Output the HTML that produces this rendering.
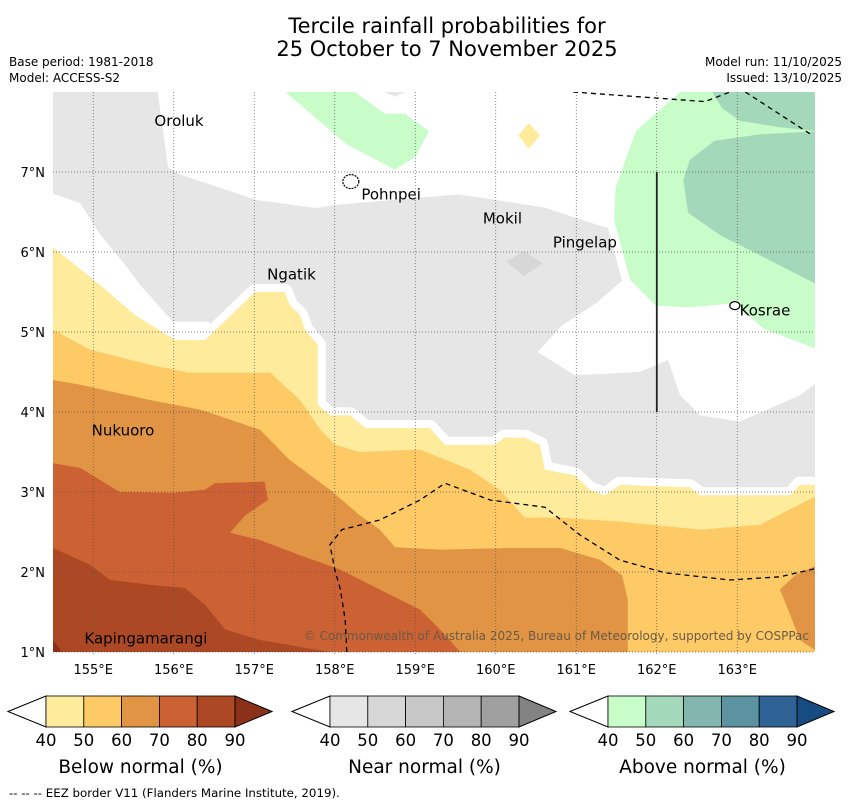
<!DOCTYPE html>
<html><head><meta charset="utf-8"><style>
body{margin:0;background:#fff;width:850px;height:804px;overflow:hidden;font-family:"Liberation Sans","DejaVu Sans",sans-serif}
svg text{font-family:"DejaVu Sans","Liberation Sans",sans-serif}
</style></head><body>
<svg id="chart" width="850" height="804" viewBox="0 0 850 804" xmlns="http://www.w3.org/2000/svg">
<text x="447" y="33" font-size="21" text-anchor="middle">Tercile rainfall probabilities for</text>
<text x="447" y="56" font-size="21" text-anchor="middle">25 October to 7 November 2025</text>
<text x="9" y="66" font-size="12">Base period: 1981-2018</text>
<text x="9" y="82" font-size="12">Model: ACCESS-S2</text>
<text x="842" y="66" font-size="12" text-anchor="end">Model run: 11/10/2025</text>
<text x="842" y="82" font-size="12" text-anchor="end">Issued: 13/10/2025</text>
<defs><clipPath id="mc"><rect x="53" y="92" width="762" height="562"/></clipPath></defs>
<g id="map" clip-path="url(#mc)"></g>
<g id="axes"></g>
<g id="legend"></g>
<text x="9" y="797" font-size="11.8">--  --  -- EEZ border V11 (Flanders Marine Institute, 2019).</text>
</svg>
<script>
// Colour scales (bins 40-50 ... 80-90, >90)
const binEdges=[40,50,60,70,80,90];
const belowColors=["#ffeb9c","#fdca66","#e09444","#cc6233","#ad4824","#8c3119"];
const nearColors=["#e6e6e6","#d7d7d7","#c8c8c8","#b4b4b4","#a0a0a0","#838383"];
const aboveColors=["#c8fcc8","#a3d8bb","#82b6ae","#5b93a0","#2f6396","#174c82"];
const lonTicks=[155,156,157,158,159,160,161,162,163];
const latTicks=[1,2,3,4,5,6,7];
// Contour regions [lon,lat]
const whiteTop=[[155.8,8],[155.93,7.06],[156.05,6.98],[157.03,6.65],[157.77,6.55],[158.02,6.59],[159.54,6.72],[160.59,6.56],[161.2,6.36],[161.49,6.27],[161.47,6.4],[161.49,6.81],[161.74,7.51],[162.29,8]];
const whiteRight=[[161.49,6.31],[161.59,5.99],[161.59,5.66],[161.26,5.37],[160.82,5.08],[160.52,4.75],[160.98,4.46],[161.79,4.5],[162.14,4.65],[162.29,4.21],[162.54,3.96],[163.03,3.88],[163.78,4.21],[164,4.38],[164,4.78],[163.33,5.04],[162.97,5.36],[162.41,5.31],[161.99,5.33],[161.67,5.65],[161.47,6.27]];
const whiteLeft=[[154.5,6.73],[154.84,6.61],[155.07,6.24],[155.38,5.86],[155.59,5.58],[155.99,5.13],[156.43,5.13],[156.57,4.9],[154.5,4.9]];
const nearBlob=[[158.62,8],[158.75,7.94],[158.87,8]];
const near5060=[[160.13,5.88],[160.35,6.01],[160.59,5.86],[160.35,5.7]];
const above1=[[157.39,8],[158.14,7.35],[158.75,7.03],[159.0,7.19],[159.17,7.51],[158.87,7.73],[158.62,7.73],[158.25,8]];
const above2=[[162.29,8],[161.74,7.51],[161.49,6.81],[161.47,6.4],[161.67,5.65],[161.99,5.33],[162.41,5.31],[162.97,5.36],[163.33,5.04],[164,4.78],[164,8]];
const above5060a=[[162.69,8],[164,8],[164,7.51],[163.53,7.56],[163.03,7.64],[162.81,7.8]];
const above5060b=[[164,7.51],[163.28,7.47],[162.72,7.39],[162.41,7.15],[162.33,6.9],[162.39,6.49],[162.79,6.21],[163.28,5.96],[164,5.59]];
const belowBlob=[[160.28,7.46],[160.41,7.61],[160.55,7.46],[160.41,7.29]];
const below4050=[[154.5,6.06],[155.08,5.59],[155.52,5.21],[156.02,4.9],[156.39,4.9],[157.01,5.5],[157.38,5.5],[157.44,5.34],[157.57,5.21],[157.63,5.03],[157.79,4.84],[157.79,4.09],[157.94,3.96],[158.19,3.96],[158.38,3.8],[159.18,3.8],[159.37,3.59],[159.99,3.59],[160.11,3.68],[160.36,3.68],[160.55,3.59],[160.61,3.28],[160.98,3.21],[161.17,3.03],[161.36,2.96],[161.54,3.09],[162.41,3.06],[162.54,2.96],[163.66,2.96],[163.78,3.09],[164,3.09],[164,1],[154.5,1]];
const below5060=[[154.5,5.03],[154.96,4.78],[155.7,4.59],[156.2,4.49],[157.2,4.49],[157.57,4.15],[157.82,3.78],[158.0,3.59],[158.31,3.5],[159.06,3.53],[159.68,3.28],[160.05,3.03],[160.36,2.68],[160.8,2.68],[161.54,2.63],[162.54,2.53],[163.28,2.59],[164,2.96],[164,1],[154.5,1]];
const below6070=[[154.5,4.4],[154.84,4.34],[155.7,4.15],[156.33,4.03],[157.07,3.78],[157.44,3.4],[157.94,3.03],[158.31,2.71],[158.56,2.53],[158.75,2.31],[159.31,2.28],[160.18,2.3],[160.8,2.3],[161.3,2.15],[161.57,1.96],[161.64,1.65],[161.64,1],[154.5,1]];
const below6070b=[[164,2.09],[163.72,1.96],[163.53,1.78],[163.66,1.46],[163.78,1.15],[164,1]];
const below7080=[[154.5,3.36],[154.84,3.3],[155.33,3.0],[156.02,2.99],[156.39,3.03],[156.51,3.11],[157.13,3.13],[157.17,2.9],[156.89,2.71],[156.7,2.49],[157.07,2.4],[157.57,2.21],[158.07,2.03],[158.56,1.78],[159.06,1.53],[159.31,1.28],[159.56,1],[154.5,1]];
const below8090=[[154.5,2.3],[154.96,2.09],[155.21,1.9],[155.7,1.84],[156.14,1.8],[156.39,1.59],[156.64,1.28],[157.07,1.15],[157.94,1],[154.5,1]];
const below90=[[154.5,1.15],[154.61,1],[154.5,1]];
const eezTop1=[[160.96,8],[162.6,7.88],[162.91,8]];
const eezTop2=[[163.1,8],[163.93,7.46]];
const eezSouth=[[158.15,1],[158.13,1.4],[158.07,1.78],[158.0,2.03],[157.94,2.34],[158.09,2.53],[158.56,2.65],[159.06,2.9],[159.37,3.11],[159.93,2.9],[160.61,2.81],[161.05,2.46],[161.54,2.15],[162.1,1.99],[162.91,1.9],[163.53,1.94],[164,2.05]];
const meridianLine=[[162,4],[162,7]];
const placeNames=["Oroluk","Pohnpei","Mokil","Pingelap","Ngatik","Kosrae","Nukuoro","Kapingamarangi"];
const placeLon=[155.76,158.33,159.84,160.71,157.16,163.03,154.98,154.89];
const placeLat=[7.64,6.72,6.42,6.12,5.72,5.27,3.77,1.17];

const NS="http://www.w3.org/2000/svg";
const X=lon=>53+(lon-154.5)*80.5;
const Y=lat=>652-(lat-1)*80;
const map=document.getElementById('map'),axes=document.getElementById('axes'),leg=document.getElementById('legend');
function mk(tag,parent,attrs){const e=document.createElementNS(NS,tag);for(const k in attrs)e.setAttribute(k,attrs[k]);parent.appendChild(e);return e;}
const pts=a=>a.map(p=>X(p[0]).toFixed(1)+','+Y(p[1]).toFixed(1)).join(' ');
function poly(arr,fill,name,halo){
  const e=mk('polygon',map,{points:pts(arr),fill:fill});
  if(halo){e.setAttribute('stroke','#fff');e.setAttribute('stroke-width','16');e.setAttribute('stroke-linejoin','round');e.setAttribute('paint-order','stroke');}
  
  
  return e;
}
const bg=mk('rect',map,{x:53,y:92,width:762,height:562,fill:nearColors[0]});


poly(whiteTop,'#fff','no-signal-area-north');
poly(whiteRight,'#fff','no-signal-area-east');
poly(whiteLeft,'#fff','no-signal-area-west');
poly(nearBlob,nearColors[0],'near-normal-blob');
poly(near5060,nearColors[1],'near-normal-50-60');
poly(above1,aboveColors[0],'above-normal-40-50-north',true);
poly(above2,aboveColors[0],'above-normal-40-50-east',true);
poly(above5060a,aboveColors[1],'above-normal-50-60-top');
poly(above5060b,aboveColors[1],'above-normal-50-60');
poly(belowBlob,belowColors[0],'below-normal-blob',true);
poly(below4050,belowColors[0],'below-normal-40-50',true);
poly(below5060,belowColors[1],'below-normal-50-60');
poly(below6070,belowColors[2],'below-normal-60-70');
poly(below6070b,belowColors[2],'below-normal-60-70-east');
poly(below7080,belowColors[3],'below-normal-70-80');
poly(below8090,belowColors[4],'below-normal-80-90');
poly(below90,belowColors[5],'below-normal-90');
// grid
lonTicks.forEach(l=>{const g=mk('line',map,{x1:X(l),x2:X(l),y1:92,y2:654,stroke:'#555','stroke-width':0.7,'stroke-dasharray':'1,2'});

});
latTicks.forEach(l=>{const g=mk('line',map,{x1:53,x2:815,y1:Y(l),y2:Y(l),stroke:'#555','stroke-width':0.7,'stroke-dasharray':'1,2'});

});
// EEZ
[[eezTop1,'eez-border-north'],[eezTop2,'eez-border-northeast'],[eezSouth,'eez-border-south']].forEach(([a,n])=>{
 const e=mk('polyline',map,{points:pts(a),fill:'none',stroke:'#000','stroke-width':1.3,'stroke-dasharray':'5,4'});
 
 });
const ml=mk('polyline',map,{points:pts(meridianLine),fill:'none',stroke:'#222','stroke-width':1.8});


// islands
const pohn=mk('ellipse',map,{cx:X(158.2),cy:Y(6.88),rx:8,ry:7,fill:'#fff',stroke:'#000','stroke-width':1.2,'stroke-dasharray':'2,1'});


const kos=mk('ellipse',map,{cx:X(162.97),cy:Y(5.33),rx:5,ry:4,fill:'#fff',stroke:'#000','stroke-width':1.2});


placeNames.forEach((n,i)=>{
 const t=mk('text',map,{x:X(placeLon[i]),y:Y(placeLat[i])+5,'font-size':15});
 t.textContent=n;
 
 
});
const cp=mk('text',map,{x:809,y:640,'font-size':12,'text-anchor':'end',fill:'#6b5a45'});
cp.textContent='© Commonwealth of Australia 2025, Bureau of Meteorology, supported by COSPPac';


// axis labels
lonTicks.forEach(l=>{const t=mk('text',axes,{x:X(l),y:674,'font-size':13,'text-anchor':'middle'});t.textContent=l+'°E';

});
latTicks.forEach(l=>{const t=mk('text',axes,{x:45,y:Y(l)+5,'font-size':13,'text-anchor':'end'});t.textContent=l+'°N';

});
// legends
const bars=[[46,belowColors,'Below normal (%)','below'],[330,nearColors,'Near normal (%)','near'],[608,aboveColors,'Above normal (%)','above']];
bars.forEach(([x0,cols,title,key])=>{
 const w=37.8,y0=696,h=31;
 const lt=mk('polygon',leg,{points:`${x0-38},${y0+h/2} ${x0},${y0} ${x0},${y0+h}`,fill:'#fff',stroke:'#000','stroke-width':1});
 
 
 for(let i=0;i<5;i++){const r=mk('rect',leg,{x:x0+i*w,y:y0,width:w,height:h,fill:cols[i],stroke:'#000','stroke-width':0.8});
  
  }
 const xe=x0+5*w;
 const rt=mk('polygon',leg,{points:`${xe},${y0} ${xe+37},${y0+h/2} ${xe},${y0+h}`,fill:cols[5],stroke:'#000','stroke-width':1});
 
 
 binEdges.forEach((b,i)=>{const t=mk('text',leg,{x:x0+i*w,y:746,'font-size':16.5,'text-anchor':'middle'});t.textContent=b;
  
  });
 const tt=mk('text',leg,{x:x0+2.5*w,y:773,'font-size':18.5,'text-anchor':'middle'});tt.textContent=title;
 
 
});
</script>
</body></html>
